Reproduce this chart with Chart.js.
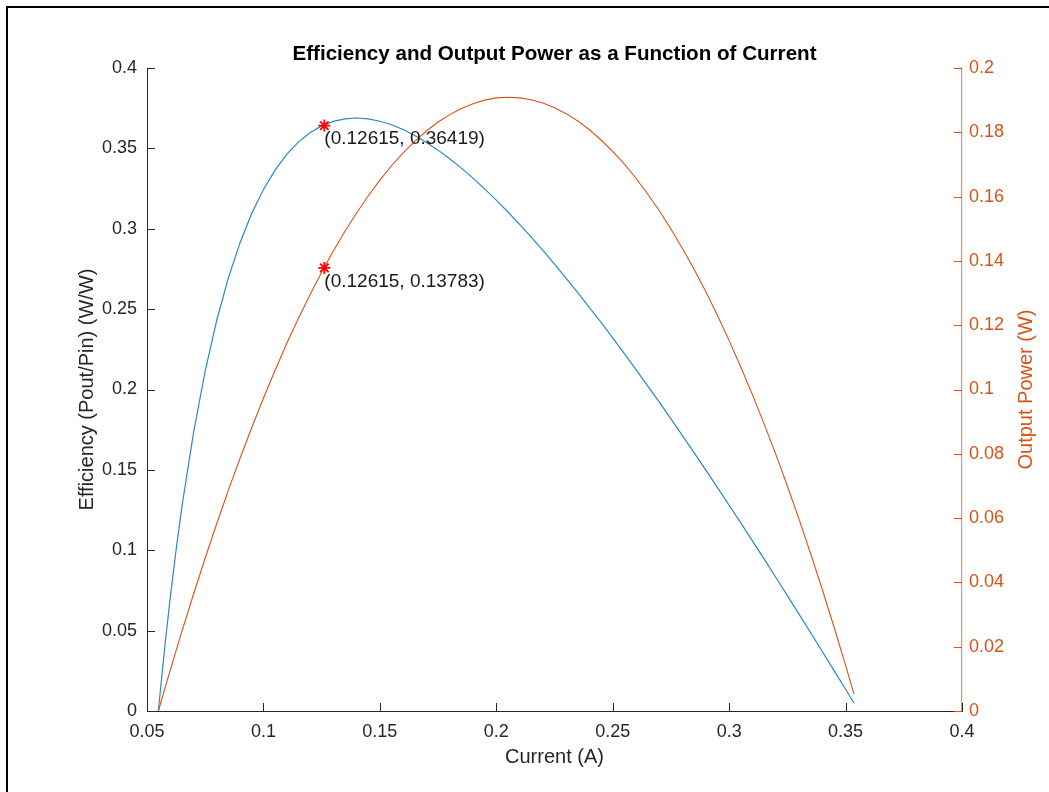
<!DOCTYPE html>
<html>
<head>
<meta charset="utf-8">
<title>Efficiency and Output Power as a Function of Current</title>
<script src="https://cdn.jsdelivr.net/npm/chart.js@4.4.1/dist/chart.umd.min.js"></script>
<style>
  html, body { margin: 0; padding: 0; background: #fff; }
  #wrap { position: relative; width: 1049px; height: 792px; overflow: hidden; }
  #frame { position: absolute; left: 6px; top: 6px; width: 1100px; height: 800px;
           border-top: 2px solid #000; border-left: 2px solid #000; }
  #chart { position: absolute; left: 0; top: 0; }
</style>
</head>
<body>
<div id="wrap">
  <div id="frame"></div>
  <canvas id="chart" width="1049" height="792"></canvas>
</div>
<script>
// current (A)
const current = [0.0549, 0.056, 0.058, 0.06, 0.0625, 0.065, 0.07, 0.075, 0.08, 0.085,
  0.09, 0.095, 0.1, 0.105, 0.11, 0.115, 0.12, 0.125, 0.13, 0.135, 0.14, 0.145, 0.15,
  0.155, 0.16, 0.165, 0.17, 0.175, 0.18, 0.185, 0.19, 0.195, 0.2, 0.205, 0.21, 0.215,
  0.22, 0.225, 0.23, 0.235, 0.24, 0.245, 0.25, 0.255, 0.26, 0.265, 0.27, 0.275, 0.28,
  0.285, 0.29, 0.295, 0.3, 0.305, 0.31, 0.315, 0.32, 0.325, 0.33, 0.335, 0.34, 0.345,
  0.35, 0.3536];
// efficiency (W/W), left axis
const efficiency = [0, 0.0166, 0.0448, 0.0707, 0.1003, 0.1271, 0.1734, 0.2116, 0.2434,
  0.2697, 0.2915, 0.3096, 0.3244, 0.3365, 0.3463, 0.3539, 0.3597, 0.3640, 0.3668, 0.3684,
  0.3689, 0.3683, 0.3669, 0.3647, 0.3617, 0.3580, 0.3537, 0.3489, 0.3435, 0.3377, 0.3315,
  0.3248, 0.3178, 0.3104, 0.3027, 0.2948, 0.2865, 0.2780, 0.2692, 0.2602, 0.2510, 0.2417,
  0.2321, 0.2223, 0.2124, 0.2023, 0.1921, 0.1817, 0.1712, 0.1606, 0.1498, 0.1390, 0.1280,
  0.1170, 0.1058, 0.0946, 0.0832, 0.0718, 0.0603, 0.0487, 0.0370, 0.0253, 0.0135, 0.0050];
// output power (W), right axis
const power = [0, 0.0028, 0.0078, 0.0127, 0.0188, 0.0248, 0.0364, 0.0476, 0.0584, 0.0688,
  0.0787, 0.0882, 0.0973, 0.1060, 0.1143, 0.1221, 0.1295, 0.1365, 0.1431, 0.1492, 0.1549,
  0.1602, 0.1651, 0.1696, 0.1736, 0.1772, 0.1804, 0.1832, 0.1855, 0.1874, 0.1889, 0.1900,
  0.1907, 0.1909, 0.1907, 0.1901, 0.1891, 0.1876, 0.1858, 0.1835, 0.1808, 0.1776, 0.1741,
  0.1701, 0.1657, 0.1608, 0.1556, 0.1499, 0.1438, 0.1373, 0.1304, 0.1230, 0.1152, 0.1070,
  0.0984, 0.0893, 0.0799, 0.0700, 0.0597, 0.0489, 0.0378, 0.0262, 0.0142, 0.0053];

// marked points
const markCurrent = [0.12615];
const markEfficiency = [0.36419];
const markPower = [0.13783];

// ticks
const xTickValues = [0.05, 0.1, 0.15, 0.2, 0.25, 0.3, 0.35, 0.4];
const xTickLabels = ['0.05', '0.1', '0.15', '0.2', '0.25', '0.3', '0.35', '0.4'];
const yTickValues = [0, 0.05, 0.1, 0.15, 0.2, 0.25, 0.3, 0.35, 0.4];
const yTickLabels = ['0', '0.05', '0.1', '0.15', '0.2', '0.25', '0.3', '0.35', '0.4'];
const y1TickValues = [0, 0.02, 0.04, 0.06, 0.08, 0.1, 0.12, 0.14, 0.16, 0.18, 0.2];
const y1TickLabels = ['0', '0.02', '0.04', '0.06', '0.08', '0.1', '0.12', '0.14', '0.16', '0.18', '0.2'];

const FONT = "'Liberation Sans', Arial, Helvetica, sans-serif";
const DARK = '#262626';
const BLUE = '#2b89bd';
const ORANGE = '#D95319';

const pts = (xs, ys) => xs.map((x, i) => ({ x: x, y: ys[i] }));
const setTicks = (values) => (scale) => { scale.ticks = values.map(v => ({ value: v })); };

// MATLAB style ticks pointing into the plot
const innerTicks = {
  id: 'innerTicks',
  afterDatasetsDraw(chart) {
    const { ctx, chartArea: a, scales } = chart;
    const len = 8;
    ctx.save();
    ctx.lineWidth = 1;
    ctx.strokeStyle = DARK;
    ctx.beginPath();
    scales.x.ticks.forEach(t => {
      const px = Math.round(scales.x.getPixelForValue(t.value)) + 0.5;
      ctx.moveTo(px, a.bottom); ctx.lineTo(px, a.bottom - len);
    });
    scales.y.ticks.forEach(t => {
      const py = Math.round(scales.y.getPixelForValue(t.value)) + 0.5;
      ctx.moveTo(a.left, py); ctx.lineTo(a.left + len, py);
    });
    ctx.stroke();
    ctx.strokeStyle = ORANGE;
    ctx.beginPath();
    scales.y1.ticks.forEach(t => {
      const py = Math.round(scales.y1.getPixelForValue(t.value)) + 0.5;
      ctx.moveTo(a.right, py); ctx.lineTo(a.right - len, py);
    });
    ctx.stroke();
    ctx.restore();
  }
};

// title, axis labels and data tips
const texts = {
  id: 'texts',
  afterDraw(chart) {
    const { ctx, chartArea: a, scales } = chart;
    const cx = (a.left + a.right) / 2;
    const cy = (a.top + a.bottom) / 2;
    ctx.save();
    ctx.textAlign = 'center';
    ctx.textBaseline = 'middle';

    ctx.fillStyle = '#000';
    ctx.font = 'bold 20.6px ' + FONT;
    ctx.fillText('Efficiency and Output Power as a Function of Current', cx, 54);

    ctx.fillStyle = DARK;
    ctx.font = '20px ' + FONT;
    ctx.fillText('Current (A)', cx, 757);

    ctx.save();
    ctx.translate(87, cy);
    ctx.rotate(-Math.PI / 2);
    ctx.fillText('Efficiency (Pout/Pin) (W/W)', 0, 0);
    ctx.restore();

    ctx.save();
    ctx.fillStyle = ORANGE;
    ctx.translate(1026, cy);
    ctx.rotate(-Math.PI / 2);
    ctx.fillText('Output Power (W)', 0, 0);
    ctx.restore();

    ctx.fillStyle = '#1a1a1a';
    ctx.font = '19px ' + FONT;
    ctx.textAlign = 'left';
    markCurrent.forEach((x, i) => {
      const px = scales.x.getPixelForValue(x);
      const pe = scales.y.getPixelForValue(markEfficiency[i]);
      const pp = scales.y1.getPixelForValue(markPower[i]);
      ctx.fillText('(' + x + ', ' + markEfficiency[i] + ')', px, pe + 13);
      ctx.fillText('(' + x + ', ' + markPower[i] + ')', px, pp + 14);
    });
    ctx.restore();
  }
};

new Chart(document.getElementById('chart'), {
  type: 'scatter',
  data: {
    datasets: [
      {
        label: 'Efficiency',
        data: pts(current, efficiency),
        yAxisID: 'y',
        showLine: true,
        borderColor: BLUE,
        borderWidth: 1.2,
        pointRadius: 0,
        order: 3
      },
      {
        label: 'Output Power',
        data: pts(current, power),
        yAxisID: 'y1',
        showLine: true,
        borderColor: ORANGE,
        borderWidth: 1.1,
        pointRadius: 0,
        order: 2
      },
      {
        label: 'Max efficiency',
        data: pts(markCurrent, markEfficiency),
        yAxisID: 'y',
        pointStyle: 'star',
        pointRadius: 6,
        borderColor: '#ff0000',
        backgroundColor: '#ff0000',
        borderWidth: 1.8,
        order: 0
      },
      {
        label: 'Power at max efficiency',
        data: pts(markCurrent, markPower),
        yAxisID: 'y1',
        pointStyle: 'star',
        pointRadius: 6,
        borderColor: '#ff0000',
        backgroundColor: '#ff0000',
        borderWidth: 1.8,
        order: 0
      }
    ]
  },
  options: {
    responsive: false,
    animation: false,
    devicePixelRatio: 1,
    layout: { padding: { top: 68, left: 0, right: 0, bottom: 0 } },
    plugins: {
      legend: { display: false },
      tooltip: { enabled: false },
      title: { display: false }
    },
    scales: {
      x: {
        type: 'linear',
        min: 0.05,
        max: 0.4,
        afterBuildTicks: setTicks(xTickValues),
        afterFit: (s) => { s.height = 81; },
        grid: { display: false, drawTicks: false },
        border: { display: true, color: DARK, width: 1 },
        ticks: {
          autoSkip: false, maxRotation: 0, padding: 10, color: DARK,
          font: { family: FONT, size: 18 },
          callback: (v, i) => xTickLabels[i]
        }
      },
      y: {
        type: 'linear',
        position: 'left',
        min: 0,
        max: 0.4,
        afterBuildTicks: setTicks(yTickValues),
        afterFit: (s) => { s.width = 147; },
        grid: { display: false, drawTicks: false },
        border: { display: true, color: DARK, width: 1 },
        ticks: {
          autoSkip: false, padding: 10, color: DARK,
          font: { family: FONT, size: 18 },
          callback: (v, i) => yTickLabels[i]
        }
      },
      y1: {
        type: 'linear',
        position: 'right',
        min: 0,
        max: 0.2,
        afterBuildTicks: setTicks(y1TickValues),
        afterFit: (s) => { s.width = 87; },
        grid: { display: false, drawTicks: false },
        border: { display: true, color: '#c99a74', width: 1.2 },
        ticks: {
          autoSkip: false, padding: 7, color: ORANGE,
          font: { family: FONT, size: 18 },
          callback: (v, i) => y1TickLabels[i]
        }
      }
    }
  },
  plugins: [innerTicks, texts]
});
</script>
</body>
</html>
